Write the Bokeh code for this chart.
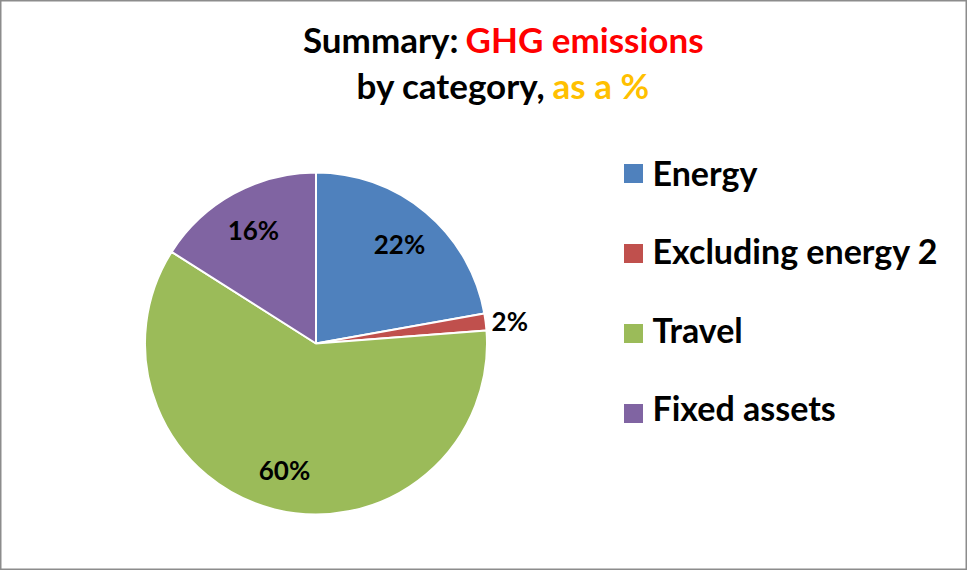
import math
from bokeh.plotting import figure
from bokeh.models import Range1d, ColumnDataSource
from bokeh.core.properties import value
from bokeh.embed import file_html
from bokeh.resources import INLINE

# ---- data ----
categories = ["Energy", "Excluding energy 2", "Travel", "Fixed assets"]
shares = [22.2, 1.6, 60.2, 16.0]
colors = ["#4F81BD", "#C0504D", "#9BBB59", "#8064A2"]
title_line1 = [("Summary:", "black"), ("GHG emissions", "#FF0000")]
title_line2 = [("by category,", "black"), ("as a %", "#FFC000")]

# ---- layout (page pixels) ----
W, H = 967, 570
OX, OY = 8, 8
FONT = "Lato"

p = figure(width=W, height=H, output_backend="svg", toolbar_location=None,
           x_range=Range1d(OX, OX + W), y_range=Range1d(-(OY + H), -OY),
           min_border=0)
p.axis.visible = False
p.grid.visible = False
p.outline_line_color = "#8C8C8C"
p.outline_line_width = 2
p.background_fill_color = "white"
p.border_fill_color = "white"

cx, cy, r = 323.5, -351.0, 171.0

total = sum(shares)
starts, ends, mids = [], [], []
acc = 0.0
for s in shares:
    a0 = acc / total
    acc += s
    a1 = acc / total
    starts.append(math.pi / 2 - a0 * 2 * math.pi)
    ends.append(math.pi / 2 - a1 * 2 * math.pi)
    mids.append(math.pi / 2 - (a0 + a1) / 2 * 2 * math.pi)

src = ColumnDataSource(dict(start=starts, end=ends, color=colors))
p.wedge(x=cx, y=cy, radius=r, start_angle="start", end_angle="end",
        direction="clock", fill_color="color", line_color="white",
        line_width=2, source=src)

# data labels
lab_in = dict(x=[], y=[], t=[])
lab_out = dict(x=[], y=[], t=[])
for s, m in zip(shares, mids):
    pct = round(s / total * 100)
    txt = f"{pct}%"
    if s / total < 0.05:
        lab_out["x"].append(cx + (r + 6) * math.cos(m))
        lab_out["y"].append(cy + (r + 6) * math.sin(m))
        lab_out["t"].append(txt)
    else:
        lab_in["x"].append(cx + 0.76 * r * math.cos(m))
        lab_in["y"].append(cy + 0.76 * r * math.sin(m))
        lab_in["t"].append(txt)

p.text(x="x", y="y", text="t", source=ColumnDataSource(lab_in),
       text_font=value(FONT), text_font_style="bold", text_font_size="26px",
       text_align="center", text_baseline="middle", text_color="black")
p.text(x="x", y="y", text="t", source=ColumnDataSource(lab_out),
       text_font=value(FONT), text_font_style="bold", text_font_size="26px",
       text_align="left", text_baseline="middle", text_color="black")

# title (two colored parts per line)
TITLE_SIZE = "35px"
def title_line(parts, right_of_first, left_of_second, mid_y):
    (t1, c1), (t2, c2) = parts
    p.text(x=[right_of_first], y=[-mid_y], text=[t1], text_color=c1,
           text_font=value(FONT), text_font_style="bold", text_font_size=TITLE_SIZE,
           text_align="right", text_baseline="middle")
    p.text(x=[left_of_second], y=[-mid_y], text=[t2], text_color=c2,
           text_font=value(FONT), text_font_style="bold", text_font_size=TITLE_SIZE,
           text_align="left", text_baseline="middle")

title_line(title_line1, 466, 473, 46)
title_line(title_line2, 553, 560, 92)

# legend
n = len(categories)
leg_x = [641.0] * n
leg_sq_y = [-(181 + 80 * i) for i in range(n)]
leg_tx_y = [-(179.5 + 78.5 * i) for i in range(n)]
p.rect(x=leg_x, y=leg_sq_y, width=19, height=19, fill_color=colors,
       line_color=None)
p.text(x=[660] * n, y=leg_tx_y, text=categories,
       text_font=value(FONT), text_font_style="bold", text_font_size="34px",
       text_align="left", text_baseline="middle", text_color="black")

open("out.html", "w").write(file_html(p, INLINE))
